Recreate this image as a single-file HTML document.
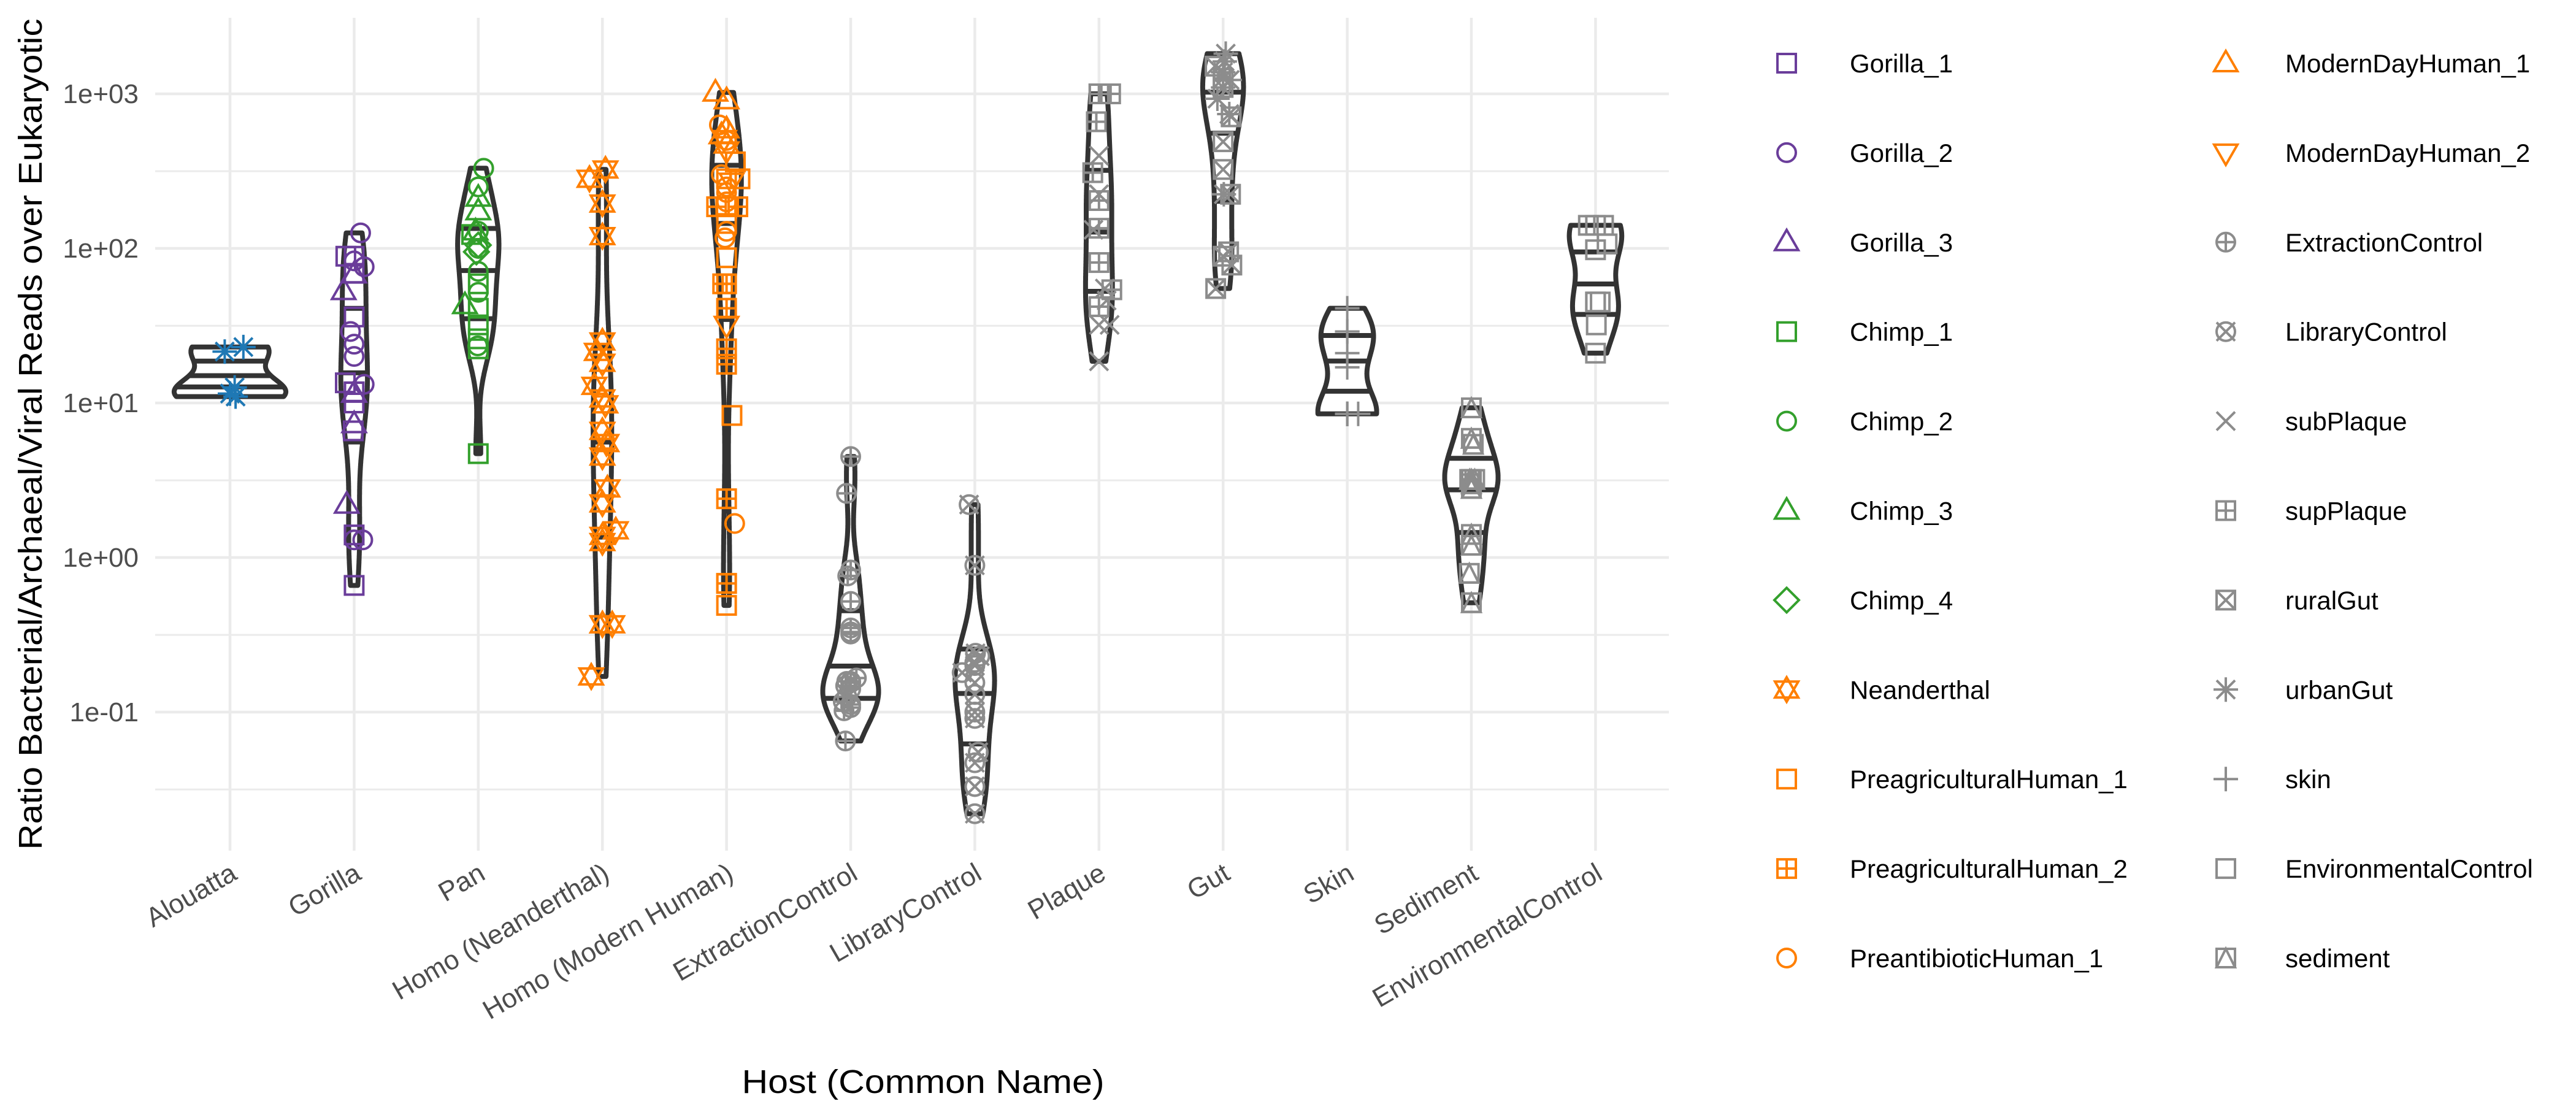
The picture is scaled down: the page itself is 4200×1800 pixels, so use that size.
<!DOCTYPE html>
<html><head><meta charset="utf-8"><style>html,body{margin:0;padding:0;background:#fff}svg{display:block}</style></head>
<body>
<svg id="chart" width="4200" height="1800" viewBox="0 0 4200 1800" xmlns="http://www.w3.org/2000/svg" font-family="'Liberation Sans', sans-serif">
<rect width="4200" height="1800" fill="#fff"/>
<g id="grid"></g>
<g id="violins"></g>
<g id="points"></g>
<g id="axes"></g>
<g id="legend"></g>
<text transform="translate(68,708) rotate(-90)" text-anchor="middle" font-size="54" fill="#000" textLength="1355" lengthAdjust="spacingAndGlyphs">Ratio Bacterial/Archaeal/Viral Reads over Eukaryotic</text>
<text x="1505" y="1782" text-anchor="middle" font-size="54" fill="#000" textLength="591" lengthAdjust="spacingAndGlyphs">Host (Common Name)</text>
</svg>
<script>
const categories = ["Alouatta","Gorilla","Pan","Homo (Neanderthal)","Homo (Modern Human)","ExtractionControl","LibraryControl","Plaque","Gut","Skin","Sediment","EnvironmentalControl"];
const yTickValues = [0.1, 1, 10, 100, 1000];
const yTickLabels = ["1e-01","1e+00","1e+01","1e+02","1e+03"];
const yMinorValues = [0.0316, 0.316, 3.16, 31.6, 316];

const alouattaVals = [21.5, 23, 12.6, 11.5, 11.0];
const alouattaSeries = ["Alouatta","Alouatta","Alouatta","Alouatta","Alouatta"];
const gorillaVals = [126, 89, 89, 83, 69, 68, 76, 53, 36, 29, 24, 20, 13.2, 11.8, 11.8, 13.5, 11.5, 11.5, 10, 7.3, 6.6, 2.2, 1.4, 1.3, 1.3, 0.66];
const gorillaSeries = ["Gorilla_2","Gorilla_1","Gorilla_1","Gorilla_2","Gorilla_1","Gorilla_3","Gorilla_2","Gorilla_3","Gorilla_1","Gorilla_2","Gorilla_2","Gorilla_2","Gorilla_2","Gorilla_1","Gorilla_1","Gorilla_1","Gorilla_3","Gorilla_3","Gorilla_1","Gorilla_3","Gorilla_1","Gorilla_3","Gorilla_1","Gorilla_2","Gorilla_2","Gorilla_1"];
const panVals = [330, 250, 213, 174, 129, 123, 129, 105, 100, 95, 71, 59, 52, 43, 41, 32, 26, 22.4, 23.4, 4.7];
const panSeries = ["Chimp_2","Chimp_2","Chimp_3","Chimp_3","Chimp_3","Chimp_1","Chimp_2","Chimp_4","Chimp_2","Chimp_4","Chimp_2","Chimp_1","Chimp_2","Chimp_3","Chimp_1","Chimp_1","Chimp_1","Chimp_1","Chimp_2","Chimp_1"];
const neanderVals = [324, 282, 195, 120, 25, 21.4, 18.2, 12.9, 10.7, 9.8, 6.6, 5.5, 4.5, 2.8, 2.24, 1.5, 1.38, 1.26, 0.37, 0.37, 0.37, 0.17];
const neanderSeries = neanderVals.map(() => "Neanderthal");
const modernVals = [1020, 910, 590, 540, 630, 510, 430, 500, 470, 363, 282, 282, 300, 250, 230, 200, 270, 186, 186, 186, 145, 129, 117, 87, 59, 59, 41, 32, 22.4, 17.8, 8.3, 2.4, 1.66, 0.68, 0.68, 0.49];
const modernSeries = ["ModernDayHuman_1","ModernDayHuman_1","ModernDayHuman_1","ModernDayHuman_1","PreantibioticHuman_1","ModernDayHuman_2","ModernDayHuman_2","PreantibioticHuman_1","ModernDayHuman_1","PreagriculturalHuman_1","PreagriculturalHuman_1","PreagriculturalHuman_1","PreantibioticHuman_1","PreantibioticHuman_1","PreantibioticHuman_1","PreantibioticHuman_1","ModernDayHuman_2","PreagriculturalHuman_1","PreagriculturalHuman_2","PreagriculturalHuman_2","PreagriculturalHuman_1","PreantibioticHuman_1","PreantibioticHuman_1","PreagriculturalHuman_1","PreagriculturalHuman_2","PreagriculturalHuman_2","PreagriculturalHuman_2","ModernDayHuman_2","PreagriculturalHuman_2","PreagriculturalHuman_2","PreagriculturalHuman_1","PreagriculturalHuman_2","PreantibioticHuman_1","PreagriculturalHuman_1","PreagriculturalHuman_2","PreagriculturalHuman_1"];
const extractionVals = [4.5, 2.6, 0.83, 0.76, 0.52, 0.35, 0.33, 0.32, 0.166, 0.158, 0.158, 0.155, 0.148, 0.141, 0.126, 0.117, 0.112, 0.107, 0.102, 0.065];
const extractionSeries = extractionVals.map(() => "ExtractionControl");
const libraryVals = [2.2, 0.89, 0.24, 0.23, 0.21, 0.2, 0.18, 0.155, 0.13, 0.10, 0.091, 0.055, 0.047, 0.033, 0.033, 0.022];
const librarySeries = libraryVals.map(() => "LibraryControl");
const plaqueVals = [1000, 1000, 1000, 660, 309, 204, 135, 81, 54, 42, 398, 224, 224, 132, 55, 46, 32, 32, 18.6];
const plaqueSeries = ["supPlaque","supPlaque","supPlaque","supPlaque","supPlaque","supPlaque","supPlaque","supPlaque","supPlaque","supPlaque","subPlaque","subPlaque","subPlaque","subPlaque","subPlaque","subPlaque","subPlaque","subPlaque","subPlaque"];
const gutVals = [1820, 1620, 1380, 1230, 1100, 930, 740, 224, 1510, 1260, 1100, 710, 490, 324, 224, 95, 89, 78, 55];
const gutSeries = ["urbanGut","urbanGut","urbanGut","urbanGut","urbanGut","urbanGut","urbanGut","urbanGut","ruralGut","ruralGut","ruralGut","ruralGut","ruralGut","ruralGut","ruralGut","ruralGut","ruralGut","ruralGut","ruralGut"];
const skinVals = [41, 29, 29, 29, 21, 17, 8.5, 8.5, 8.5, 8.5, 8.5];
const skinSeries = skinVals.map(() => "skin");
const sedimentVals = [9.3, 5.9, 5.4, 3.2, 3.2, 3.2, 3.0, 2.8, 1.41, 1.2, 0.79, 0.51];
const sedimentSeries = sedimentVals.map(() => "sediment");
const envVals = [141, 141, 141, 107, 98, 45, 45, 45, 32, 21];
const envSeries = envVals.map(() => "EnvironmentalControl");

const groupVals = [alouattaVals, gorillaVals, panVals, neanderVals, modernVals, extractionVals, libraryVals, plaqueVals, gutVals, skinVals, sedimentVals, envVals];
const groupSeries = [alouattaSeries, gorillaSeries, panSeries, neanderSeries, modernSeries, extractionSeries, librarySeries, plaqueSeries, gutSeries, skinSeries, sedimentSeries, envSeries];

const legendCol1 = ["Gorilla_1","Gorilla_2","Gorilla_3","Chimp_1","Chimp_2","Chimp_3","Chimp_4","Neanderthal","PreagriculturalHuman_1","PreagriculturalHuman_2","PreantibioticHuman_1"];
const legendCol2 = ["ModernDayHuman_1","ModernDayHuman_2","ExtractionControl","LibraryControl","subPlaque","supPlaque","ruralGut","urbanGut","skin","EnvironmentalControl","sediment"];

const PURPLE="#6a3d9a", GREEN="#33a02c", ORANGE="#ff7f00", BLUE="#1f78b4", GREY="#8c8c8c";
const style = {
  Alouatta:["asterisk",BLUE], Gorilla_1:["square",PURPLE], Gorilla_2:["circle",PURPLE], Gorilla_3:["triangle",PURPLE],
  Chimp_1:["square",GREEN], Chimp_2:["circle",GREEN], Chimp_3:["triangle",GREEN], Chimp_4:["diamond",GREEN],
  Neanderthal:["star",ORANGE], PreagriculturalHuman_1:["square",ORANGE], PreagriculturalHuman_2:["squareplus",ORANGE],
  PreantibioticHuman_1:["circle",ORANGE], ModernDayHuman_1:["triangle",ORANGE], ModernDayHuman_2:["triangledown",ORANGE],
  ExtractionControl:["circleplus",GREY], LibraryControl:["circlex",GREY], subPlaque:["x",GREY], supPlaque:["squareplus",GREY],
  ruralGut:["squarex",GREY], urbanGut:["asterisk",GREY], skin:["plus",GREY], EnvironmentalControl:["square",GREY], sediment:["squaretri",GREY]
};

const NS="http://www.w3.org/2000/svg";
const PX0=375, PSTEP=202.4, PTOP=29, PBOT=1387, PLEFT=253, PRIGHT=2721;
function xPos(i){ return PX0 + PSTEP*i; }
function yPos(v){ return 153 + (3 - Math.log10(v))*252; }
function yLog(l){ return 153 + (3 - l)*252; }
function mk(tag, attrs, parent){ const e=document.createElementNS(NS,tag); for(const k in attrs) e.setAttribute(k, attrs[k]); parent.appendChild(e); return e; }

const grid=document.getElementById('grid');
yMinorValues.forEach(v=>{ const l=mk('line',{x1:PLEFT,x2:PRIGHT,y1:yPos(v),y2:yPos(v),stroke:'#ebebeb','stroke-width':3},grid);
  
   });
yTickValues.forEach(v=>{ const l=mk('line',{x1:PLEFT,x2:PRIGHT,y1:yPos(v),y2:yPos(v),stroke:'#ebebeb','stroke-width':4.5},grid);
  
   });
categories.forEach((c,i)=>{ const l=mk('line',{x1:xPos(i),x2:xPos(i),y1:PTOP,y2:PBOT,stroke:'#ebebeb','stroke-width':4.5},grid);
  
   });

const axes=document.getElementById('axes');
yTickValues.forEach((v,i)=>{ const t=mk('text',{x:226,y:yPos(v)+15,'text-anchor':'end','font-size':44,fill:'#4d4d4d'},axes); t.textContent=yTickLabels[i];
  
   });
categories.forEach((c,i)=>{ const x=xPos(i)+14, y=1432; const t=mk('text',{x:x,y:y,'text-anchor':'end','font-size':44,fill:'#4d4d4d',transform:`rotate(-30 ${x} ${y})`},axes); t.textContent=c;
  
   });

function quantile(sorted,p){ const h=(sorted.length-1)*p, lo=Math.floor(h), hi=Math.ceil(h); return sorted[lo]+(sorted[hi]-sorted[lo])*(h-lo); }
function kde(vals){
  const L=vals.map(v=>Math.log10(v)).sort((a,b)=>a-b), n=L.length;
  const mean=L.reduce((a,b)=>a+b,0)/n;
  const sd=Math.sqrt(L.reduce((a,b)=>a+(b-mean)*(b-mean),0)/(n-1));
  const iqr=quantile(L,0.75)-quantile(L,0.25);
  let lo=Math.min(sd, iqr/1.34); if(!(lo>0)) lo=sd||1;
  const bw=0.9*lo*Math.pow(n,-0.2);
  const ys=[], ds=[], N=512, a=L[0], b=L[n-1];
  for(let k=0;k<N;k++){ const y=a+(b-a)*k/(N-1); let d=0; for(const x of L){ const z=(y-x)/bw; d+=Math.exp(-0.5*z*z);} ys.push(y); ds.push(d/(n*bw*Math.sqrt(2*Math.PI))); }
  return {ys,ds};
}
const dens=groupVals.map(kde);
const maxD=Math.max(...dens.map(d=>Math.max(...d.ds)));
const HALF=0.45*PSTEP;
const vg=document.getElementById('violins');
dens.forEach((d,i)=>{
  const cx=xPos(i); let right=[], left=[];
  for(let k=0;k<d.ys.length;k++){ const w=HALF*d.ds[k]/maxD; right.push(`${(cx+w).toFixed(1)},${yLog(d.ys[k]).toFixed(1)}`); left.push(`${(cx-w).toFixed(1)},${yLog(d.ys[k]).toFixed(1)}`); }
  const pts=right.concat(left.reverse());
  const p=mk('path',{d:'M'+pts.join('L')+'Z',fill:'#fff',stroke:'#333','stroke-width':8,'stroke-linejoin':'round'},vg);
  
  
  const tot=d.ds.reduce((a,b)=>a+b,0); let cum=0; const ecdf=d.ds.map(v=>(cum+=v)/tot);
  [0.25,0.5,0.75].forEach(q=>{
    let k=ecdf.findIndex(e=>e>=q); if(k<1) k=1;
    const f=(q-ecdf[k-1])/((ecdf[k]-ecdf[k-1])||1);
    const yl=d.ys[k-1]+(d.ys[k]-d.ys[k-1])*f, dd=d.ds[k-1]+(d.ds[k]-d.ds[k-1])*f;
    const w=HALF*dd/maxD;
    const l=mk('line',{x1:cx-w,x2:cx+w,y1:yLog(yl),y2:yLog(yl),stroke:'#333','stroke-width':8},vg);
    
    
  });
});

function marker(shape,cx,cy,color,parent){
  const g=mk('g',{fill:'none',stroke:color,'stroke-width':4,'stroke-linecap':'butt'},parent);
  const s=15;
  const line=(x1,y1,x2,y2)=>mk('line',{x1:cx+x1,y1:cy+y1,x2:cx+x2,y2:cy+y2},g);
  const poly=(arr)=>mk('polygon',{points:arr.map(p=>`${cx+p[0]},${cy+p[1]}`).join(' ')},g);
  switch(shape){
    case 'square': mk('rect',{x:cx-s,y:cy-s,width:2*s,height:2*s},g); break;
    case 'circle': mk('circle',{cx:cx,cy:cy,r:s},g); break;
    case 'triangle': poly([[0,-20],[-19,13],[19,13]]); break;
    case 'triangledown': poly([[0,20],[-19,-13],[19,-13]]); break;
    case 'diamond': poly([[0,-20],[20,0],[0,20],[-20,0]]); break;
    case 'star': poly([[0,-20],[-19,13],[19,13]]); poly([[0,20],[-19,-13],[19,-13]]); break;
    case 'squareplus': mk('rect',{x:cx-s,y:cy-s,width:2*s,height:2*s},g); line(-s,0,s,0); line(0,-s,0,s); break;
    case 'squarex': mk('rect',{x:cx-s,y:cy-s,width:2*s,height:2*s},g); line(-s,-s,s,s); line(-s,s,s,-s); break;
    case 'squaretri': mk('rect',{x:cx-s,y:cy-s,width:2*s,height:2*s},g); poly([[0,-s],[-s,s],[s,s]]); break;
    case 'circleplus': mk('circle',{cx:cx,cy:cy,r:s},g); line(-s,0,s,0); line(0,-s,0,s); break;
    case 'circlex': mk('circle',{cx:cx,cy:cy,r:s},g); line(-s,-s,s,s); line(-s,s,s,-s); break;
    case 'x': line(-s,-s,s,s); line(-s,s,s,-s); break;
    case 'plus': line(-20,0,20,0); line(0,-20,0,20); break;
    case 'asterisk': line(-s,-s,s,s); line(-s,s,s,-s); line(-20,0,20,0); line(0,-20,0,20); break;
  }
  return g;
}

let seed=12345;
function rnd(){ seed=(seed*1103515245+12345)%2147483648; return seed/2147483648; }
const pg=document.getElementById('points');
groupVals.forEach((vals,i)=>{
  vals.forEach((v,j)=>{
    const r=rnd(); const jit = r<0.6 ? 0 : (rnd()-0.5)*2*22;
    const st=style[groupSeries[i][j]];
    const m=marker(st[0], xPos(i)+jit, yPos(v), st[1], pg);
    
    
  });
});

const lg=document.getElementById('legend');
[[legendCol1,2913,3016],[legendCol2,3629,3726]].forEach(col=>{
  col[0].forEach((name,k)=>{
    const cy=103+145.9*k; const st=style[name];
    const m=marker(st[0], col[1], cy, st[1], lg);
    
    
    const t=mk('text',{x:col[2],y:cy+15,'font-size':42,fill:'#000'},lg); t.textContent=name;
    
    
  });
});
</script>
</body></html>
